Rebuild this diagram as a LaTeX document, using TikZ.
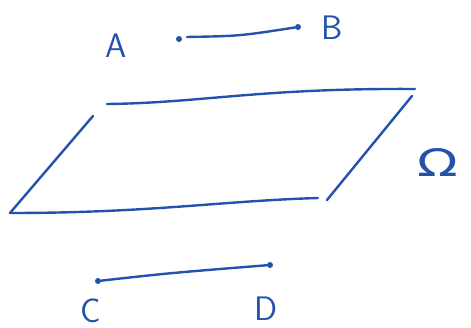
\documentclass[tikz,border=0pt]{standalone}
\usepackage{fontspec}
\newfontfamily\omegafont{DejaVu Sans}
\definecolor{pen}{RGB}{35,82,172}
\tikzset{
  stroke/.style={draw=pen, line width=2.4pt, line cap=round},
  dotpt/.style={circle, fill=pen, inner sep=0pt, minimum size=6pt},
  lab/.style={text=pen, font=\fontsize{34}{34}\selectfont\sffamily, inner sep=0pt}
}
\begin{document}
\begin{tikzpicture}[x=1pt,y=-1pt]
\useasboundingbox (0,0) rectangle (471,328);
% segment AB
\node[dotpt] (a) at (179,39) {};
\node[dotpt] (b) at (298,27) {};
\coordinate (a1) at (187,37);
\draw[stroke] (a1) .. controls (240,36) .. (b);
\node[lab] (la) at (116,46) {A};
\node[lab] (lb) at (332,28) {B};
% plane
\coordinate (t1) at (107,104);
\coordinate (t2) at (415,89);
\coordinate (r1) at (412,96);
\coordinate (r2) at (327,200);
\coordinate (b1) at (318,198);
\coordinate (b2) at (10,213);
\coordinate (l1) at (93,116);
\draw[stroke] (t1) .. controls (200,103) and (260,88) .. (t2);
\draw[stroke] (r1) -- (r2);
\draw[stroke] (b1) .. controls (220,201) and (150,213) .. (b2);
\draw[stroke] (l1) -- (b2);
\node[lab, font=\fontsize{38}{38}\selectfont\omegafont, xscale=1.4] (lo) at (438,162) {Ω};
% segment CD
\node[dotpt] (c) at (98,281) {};
\node[dotpt] (d) at (270,265) {};
\draw[stroke] (c) .. controls (170,273) .. (d);
\node[lab] (lc) at (91,311) {C};
\node[lab] (ld) at (266,309) {D};
\end{tikzpicture}
\end{document}
